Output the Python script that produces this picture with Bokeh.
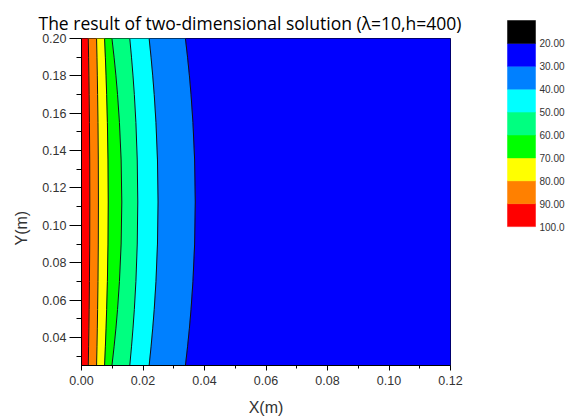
import math
from bokeh.plotting import figure
from bokeh.layouts import row, column
from bokeh.models import Range1d, FixedTicker, NumeralTickFormatter, Title, ColumnDataSource
from bokeh.core.properties import value
from bokeh.embed import file_html
from bokeh.resources import INLINE

# ---------------- data ----------------
title_text = "The result of two-dimensional solution (\u03bb=10,h=400)"
x_min, x_max = 0.0, 0.12
y_min, y_max = 0.025, 0.20
x_ticks = [0.0, 0.02, 0.04, 0.06, 0.08, 0.10, 0.12]
x_minor = [0.01, 0.03, 0.05, 0.07, 0.09, 0.11]
y_ticks = [0.04, 0.06, 0.08, 0.10, 0.12, 0.14, 0.16, 0.18, 0.20]
y_minor = [0.03, 0.05, 0.07, 0.09, 0.11, 0.13, 0.15, 0.17, 0.19]

# y positions at which contour lines were read
y_pts = [0.200, 0.190, 0.180, 0.170, 0.155, 0.135, 0.1125,
         0.090, 0.070, 0.055, 0.045, 0.035, 0.025]
# x position of each isotherm at y_pts
iso_90 = [0.00220, 0.00231, 0.00240, 0.00248, 0.00258, 0.00267, 0.00270,
          0.00267, 0.00258, 0.00248, 0.00240, 0.00231, 0.00220]
iso_80 = [0.00490, 0.00503, 0.00514, 0.00524, 0.00536, 0.00546, 0.00550,
          0.00546, 0.00536, 0.00524, 0.00514, 0.00503, 0.00490]
iso_70 = [0.00750, 0.00776, 0.00799, 0.00818, 0.00842, 0.00862, 0.00870,
          0.00862, 0.00842, 0.00818, 0.00799, 0.00776, 0.00750]
iso_60 = [0.00990, 0.01059, 0.01120, 0.01172, 0.01234, 0.01289, 0.01310,
          0.01289, 0.01234, 0.01172, 0.01120, 0.01059, 0.00990]
iso_50 = [0.01570, 0.01626, 0.01675, 0.01718, 0.01769, 0.01813, 0.01830,
          0.01813, 0.01769, 0.01718, 0.01675, 0.01626, 0.01570]
iso_40 = [0.02200, 0.02262, 0.02317, 0.02365, 0.02422, 0.02471, 0.02490,
          0.02471, 0.02422, 0.02365, 0.02317, 0.02262, 0.02200]
iso_30 = [0.03380, 0.03449, 0.03510, 0.03562, 0.03624, 0.03679, 0.03700,
          0.03679, 0.03624, 0.03562, 0.03510, 0.03449, 0.03380]

# colour bands (high -> low): 100-90, 90-80, ..., 30-20, and <20
levels = [100, 90, 80, 70, 60, 50, 40, 30, 20, 10]
band_colors = ["#FF0000", "#FF8000", "#FFFF00", "#00FF00", "#00FF80",
               "#00FFFF", "#0080FF", "#0000FF", "#000000"]
cb_labels = ["20.00", "30.00", "40.00", "50.00", "60.00", "70.00", "80.00", "90.00", "100.0"]
cb_label_vals = [20, 30, 40, 50, 60, 70, 80, 90, 100]

# ---------------- main contour figure ----------------
W1, H = 478, 418
p = figure(width=W1, height=H, output_backend="svg", toolbar_location=None,
           x_range=Range1d(x_min, x_max), y_range=Range1d(y_min, y_max),
           min_border_left=80, min_border_right=28, min_border_top=38, min_border_bottom=53,
           background_fill_color="white", border_fill_color="white")
p.grid.visible = False
p.outline_line_color = "black"
p.outline_line_width = 1

n = len(y_pts)
left_edge = [x_min] * n
right_edge = [x_max] * n
bounds = [left_edge, iso_90, iso_80, iso_70, iso_60, iso_50, iso_40, iso_30, right_edge]
xs, ys, cols = [], [], []
for i in range(len(bounds) - 1):
    L, R = bounds[i], bounds[i + 1]
    xs.append(list(L) + list(R[::-1]))
    ys.append(list(y_pts) + list(y_pts[::-1]))
    cols.append(band_colors[i])
p.patches(xs=xs, ys=ys, fill_color=cols, line_color=cols, line_width=0.5)

isos = [iso_90, iso_80, iso_70, iso_60, iso_50, iso_40, iso_30]
p.multi_line(xs=isos, ys=[y_pts] * len(isos), line_color="#111111", line_width=1)

tick_font = "Liberation Sans"
for ax in (p.xaxis[0], p.yaxis[0]):
    ax.axis_line_color = "black"
    ax.axis_line_width = 1
    ax.major_tick_line_color = "black"
    ax.minor_tick_line_color = "black"
    ax.major_tick_in = 0
    ax.minor_tick_in = 0
    ax.major_label_text_font = tick_font
    ax.major_label_text_font_size = "12.5px"
    ax.major_label_text_color = "#333333"
    ax.formatter = NumeralTickFormatter(format="0.00")
p.xaxis.major_tick_out = 5
p.xaxis.minor_tick_out = 3
p.yaxis.major_tick_out = 12
p.yaxis.minor_tick_out = 5
p.yaxis.major_label_standoff = 3

p.xaxis.ticker = FixedTicker(ticks=x_ticks, minor_ticks=x_minor)
p.yaxis.ticker = FixedTicker(ticks=y_ticks, minor_ticks=y_minor)
p.xaxis.axis_label = "X(m)"
p.xaxis.axis_label_text_font = tick_font
p.xaxis.axis_label_text_font_size = "16px"
p.xaxis.axis_label_text_font_style = "normal"
p.xaxis.axis_label_text_color = "#333333"
p.xaxis.axis_label_standoff = 11

# Title
p.title = Title(text=title_text, align="left", offset=-43, standoff=8,
                text_font="Open Sans", text_font_size="17.5px",
                text_font_style="normal", text_color="black")
# Y axis label as a left-side title (sits slightly below the frame centre)
p.add_layout(Title(text="Y(m)", align="left", offset=120, standoff=20,
                   text_font=tick_font, text_font_size="16px",
                   text_font_style="normal", text_color="#333333"), "left")

# ---------------- colour bar figure ----------------
W2 = 88
cb_top_px = 20          # top of colour bar below figure top
cb_box_px = 22.9        # height of one colour box
ppu = cb_box_px / 10.0
v_top = levels[-1] - cb_top_px / ppu
v_bot = levels[-1] + (H - cb_top_px) / ppu
c = figure(width=W2, height=H, output_backend="svg", toolbar_location=None,
           x_range=Range1d(0, W2), y_range=Range1d(v_bot, v_top),
           min_border=0, background_fill_color="white", border_fill_color="white")
c.axis.visible = False
c.grid.visible = False
c.outline_line_color = None
cb_src = ColumnDataSource(dict(top=levels[1:], bottom=levels[:-1], color=band_colors))
c.quad(left=29, right=57, top="top", bottom="bottom", fill_color="color",
       line_color="color", line_width=0.5, source=cb_src)
c.text(x=[61] * len(cb_labels), y=cb_label_vals, text=cb_labels,
       text_font=value(tick_font), text_font_size="10px", text_color="#333333",
       text_baseline="middle", text_align="left")

layout = row(p, column(c))
open("out.html", "w").write(file_html(layout, INLINE))
